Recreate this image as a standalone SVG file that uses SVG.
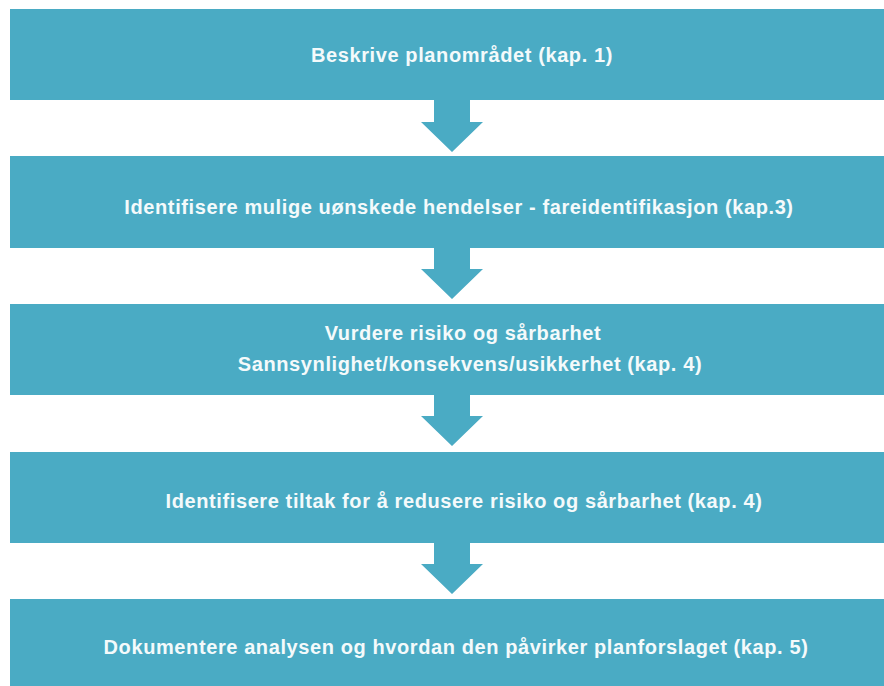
<svg xmlns="http://www.w3.org/2000/svg" width="884" height="686" viewBox="0 0 884 686">
<defs>
<style>
.box{fill:#4aabc4}
.arr{fill:#4aabc4}
.t{font-family:"Liberation Sans",Arial,sans-serif;font-weight:bold;font-size:20px;letter-spacing:0.6px;fill:#f4fafb;text-anchor:middle}
</style>
<path id="arrow" d="M434,0 H470 V22 H483 L452,52 L421,22 H434 Z"/>
</defs>
<rect width="884" height="686" fill="#ffffff"/>
<g id="connectors">
<use href="#arrow" class="arr" x="0" y="100"/>
<use href="#arrow" class="arr" x="0" y="247"/>
<use href="#arrow" class="arr" x="0" y="394"/>
<use href="#arrow" class="arr" x="0" y="542"/>
</g>
<g id="n1">
<rect class="box" x="10" y="9" width="880" height="91"/>
<text class="t" x="462" y="62">Beskrive planområdet (kap. 1)</text>
</g>
<g id="n2">
<rect class="box" x="10" y="156" width="880" height="92"/>
<text class="t" x="459" y="214">Identifisere mulige uønskede hendelser - fareidentifikasjon (kap.3)</text>
</g>
<g id="n3">
<rect class="box" x="10" y="304" width="880" height="91"/>
<text class="t" x="463" y="340">Vurdere risiko og sårbarhet</text>
<text class="t" x="470" y="371">Sannsynlighet/konsekvens/usikkerhet (kap. 4)</text>
</g>
<g id="n4">
<rect class="box" x="10" y="452" width="880" height="91"/>
<text class="t" x="464" y="508">Identifisere tiltak for å redusere risiko og sårbarhet (kap. 4)</text>
</g>
<g id="n5">
<rect class="box" x="10" y="599" width="880" height="90"/>
<text class="t" x="456" y="654">Dokumentere analysen og hvordan den påvirker planforslaget (kap. 5)</text>
</g>
</svg>
